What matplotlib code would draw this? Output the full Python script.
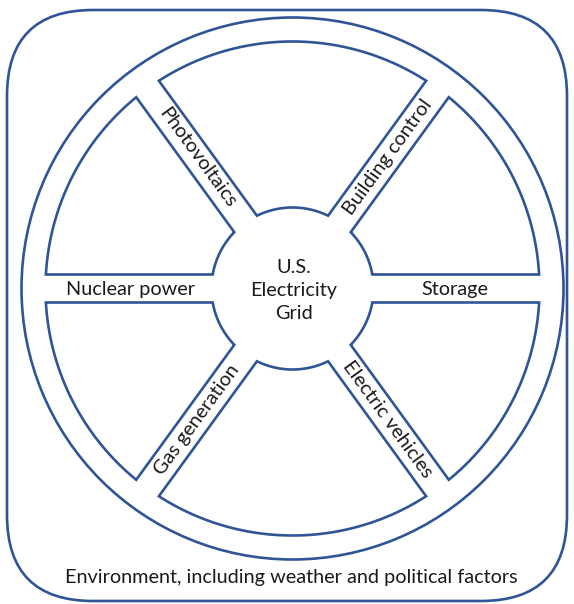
import numpy as np
import matplotlib
matplotlib.use("Agg")
import matplotlib.pyplot as plt
from matplotlib.patches import FancyBboxPatch, Circle, Polygon

# spoke directions (degrees, counter-clockwise from east) and their labels
spoke_angles = [0, 54, 126, 180, 234, 306]
spoke_labels = ["Storage", "Building control", "Photovoltaics",
                "Nuclear power", "Gas generation", "Electric vehicles"]
hub_label = "U.S.\nElectricity\nGrid"
env_label = "Environment, including weather and political factors"

W, H = 574, 604
cx, cy = 292.5, 288.5
r_ring = 271      # outer ring
r_out = 247       # outer edge of the sectors
r_in = 81         # hub
half_gap = 14     # half width of a spoke
label_r = 162
blue = "#2F5597"
lw = 1.9

plt.rcParams["font.family"] = ["Lato", "DejaVu Sans"]
fs = 14.3

fig = plt.figure(figsize=(W / 100, H / 100), dpi=100)
ax = fig.add_axes([0, 0, 1, 1])
ax.set_xlim(0, W)
ax.set_ylim(H, 0)
ax.axis("off")


def pt(r, a):
    return cx + r * np.cos(a), cy - r * np.sin(a)


# rounded frame
box = FancyBboxPatch((7, 10), 560, 591, boxstyle="round,pad=0,rounding_size=86",
                     fill=False, ec=blue, lw=lw)
ax.add_patch(box)

# outer ring
ax.add_patch(Circle((cx, cy), r_ring, fill=False, ec=blue, lw=lw))

# sectors between consecutive spokes
angs = np.radians(spoke_angles)
for i in range(len(angs)):
    a1 = angs[i]
    a2 = angs[(i + 1) % len(angs)]
    if a2 <= a1:
        a2 += 2 * np.pi
    do = np.arcsin(half_gap / r_out)
    di = np.arcsin(half_gap / r_in)
    outer = np.linspace(a1 + do, a2 - do, 120)
    inner = np.linspace(a2 - di, a1 + di, 60)
    pts = [pt(r_out, a) for a in outer] + [pt(r_in, a) for a in inner]
    ax.add_patch(Polygon(pts, closed=True, fill=False, ec=blue, lw=lw,
                         joinstyle="miter"))

# spoke labels
for a, lab in zip(spoke_angles, spoke_labels):
    rot = ((a + 90) % 180) - 90
    x, y = pt(label_r, np.radians(a))
    ax.text(x, y + (1.5 if rot == 0 else 0), lab, fontsize=fs, rotation=rot,
            rotation_mode="anchor", ha="center", va="center", color="#1a1a1a")

ax.text(cx + 1, cy + 2, hub_label, fontsize=fs, ha="center", va="center",
        linespacing=1.45, color="#1a1a1a")
ax.text(291, 577, env_label, fontsize=fs, ha="center", va="center",
        color="#1a1a1a")

fig.savefig("out.png", dpi=100)
